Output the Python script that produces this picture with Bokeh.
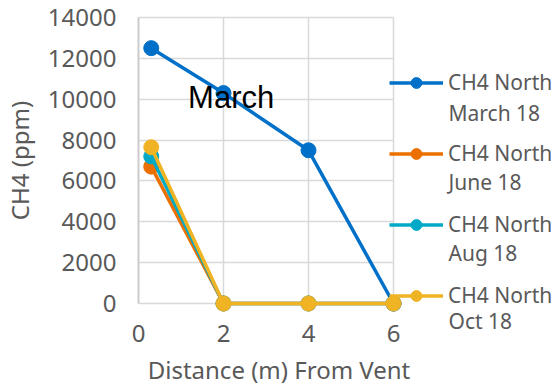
from bokeh.plotting import figure
from bokeh.models import Range1d, FixedTicker, Legend, LegendItem, Label
from bokeh.embed import file_html
from bokeh.resources import INLINE

distance = [0.3, 2, 4, 6]
ch4_march = [12500, 10300, 7500, 0]
ch4_june = [6700, 0, 0, 0]
ch4_aug = [7200, 0, 0, 0]
ch4_oct = [7650, 0, 0, 0]

legend_line1 = ["CH4 North", "CH4 North", "CH4 North", "CH4 North"]
legend_line2 = ["March 18", "June 18", "Aug 18", "Oct 18"]
series_colors = ["#0070C8", "#EC7000", "#00A9C6", "#F0B323"]
x_ticks = [0, 2, 4, 6]
y_ticks = [0, 2000, 4000, 6000, 8000, 10000, 12000, 14000]

TXT = "#595959"
GRID = "#D9D9D9"

# pixel scale of the reference: 42.5 px per metre, 20.43 px per 1000 ppm
p = figure(width=556, height=385, output_backend="svg", toolbar_location=None,
           x_range=Range1d(-3.247, 9.835), y_range=Range1d(-4014, 14832),
           min_border_left=0, min_border_right=0, min_border_top=0, min_border_bottom=0)
p.outline_line_color = None

for ax in (p.xaxis[0], p.yaxis[0]):
    ax.major_tick_line_color = None
    ax.minor_tick_line_color = None
    ax.major_tick_out = 0
    ax.major_tick_in = 0
    ax.minor_tick_out = 0
    ax.major_label_text_font = "Noto Sans"
    ax.major_label_text_font_size = "24px"
    ax.major_label_text_color = TXT
    ax.axis_label_text_font = "Noto Sans"
    ax.axis_label_text_font_size = "24px"
    ax.axis_label_text_font_style = "normal"
    ax.axis_label_text_color = TXT

p.xaxis.ticker = FixedTicker(ticks=x_ticks)
p.yaxis.ticker = FixedTicker(ticks=y_ticks)
p.xaxis.fixed_location = 0
p.yaxis.fixed_location = 0
p.xaxis.bounds = (0, 6.6)
p.xaxis.axis_line_color = None
p.yaxis.bounds = (y_ticks[0], y_ticks[-1])
p.yaxis.axis_line_color = "#CCCCCC"
p.yaxis.axis_line_width = 2
p.xaxis.axis_label = "Distance (m) From Vent"
p.yaxis.axis_label = "CH4 (ppm)"
p.xaxis.major_label_standoff = 22
p.xaxis.axis_label_standoff = 7
p.yaxis.major_label_standoff = 22
p.yaxis.axis_label_standoff = 9

p.xgrid.ticker = FixedTicker(ticks=x_ticks[1:])
p.ygrid.ticker = FixedTicker(ticks=y_ticks)
p.xgrid.cross_bounds = (y_ticks[0], y_ticks[-1])
p.ygrid.cross_bounds = (x_ticks[0], x_ticks[-1])
for g in (p.xgrid[0], p.ygrid[0]):
    g.grid_line_color = GRID
    g.grid_line_width = 1.5

items = []
for ys, lab, col in zip([ch4_march, ch4_june, ch4_aug, ch4_oct], legend_line1, series_colors):
    r1 = p.line(distance, ys, line_color=col, line_width=3.5)
    r2 = p.scatter(distance, ys, size=15, fill_color=col, line_color=col)
    items.append(LegendItem(label=lab, renderers=[r1, r2]))

legend = Legend(items=items, location=(389, 76), orientation="vertical",
                glyph_width=54, glyph_height=27, label_height=27, label_standoff=5, spacing=43,
                padding=0, margin=0, border_line_color=None, background_fill_alpha=0,
                label_text_font="Noto Sans", label_text_font_size="21px",
                label_text_color=TXT)
p.add_layout(legend)

# second line of each legend entry, placed under the first
legend_x2 = 7.294
legend_y2 = [9349, 5923, 2496, -881]
for t, yv in zip(legend_line2, legend_y2):
    p.add_layout(Label(x=legend_x2, y=yv, text=t, text_align="left", text_baseline="middle",
                       text_font="Noto Sans", text_font_size="21px", text_color=TXT))

p.add_layout(Label(x=2.18, y=10100, text="March", text_align="center", text_baseline="middle",
                   text_font="Liberation Sans", text_font_size="31px", text_color="black"))

open("out.html", "w").write(file_html(p, INLINE))
